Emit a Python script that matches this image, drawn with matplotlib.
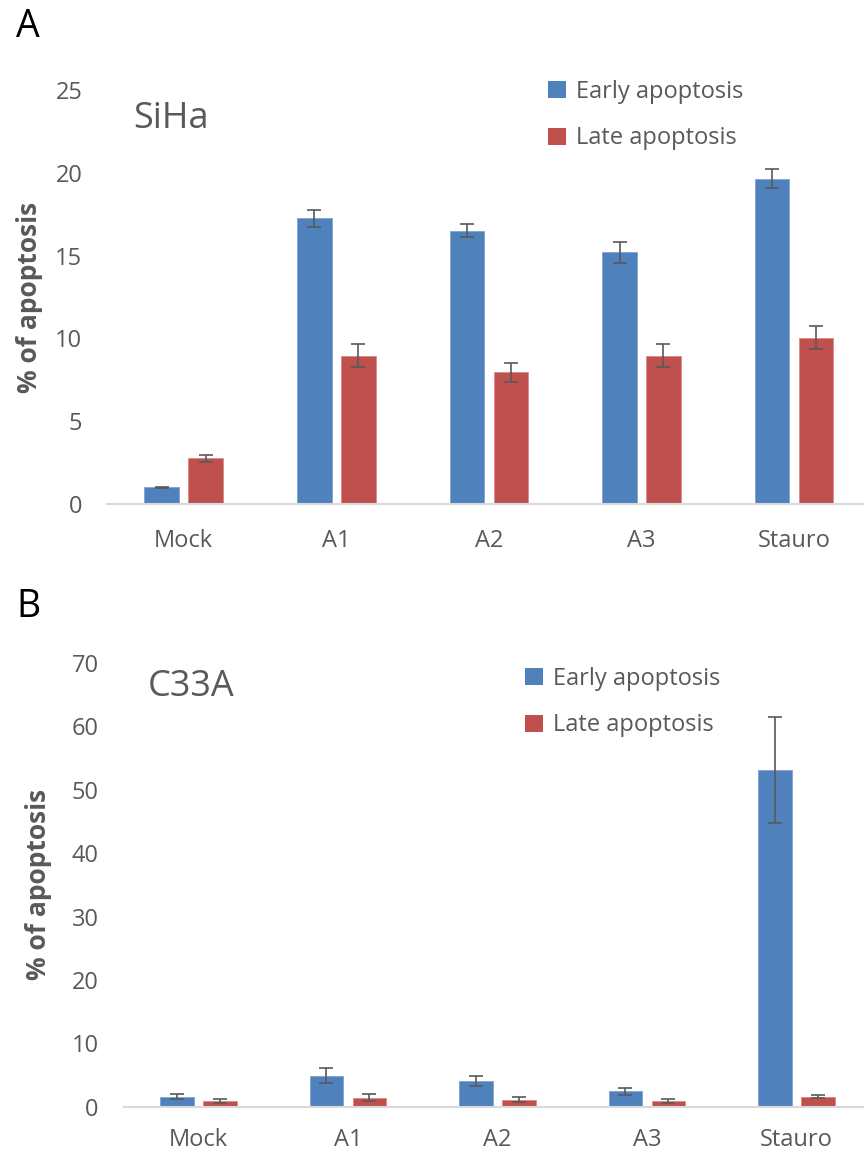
import numpy as np
import matplotlib
matplotlib.use("Agg")
import matplotlib.pyplot as plt
from matplotlib.patches import Patch

# categorias e valores
grupos = ["Mock", "A1", "A2", "A3", "Stauro"]

siha_early = [1.0, 17.25, 16.5, 15.2, 19.65]
siha_early_err = [0.05, 0.5, 0.38, 0.65, 0.58]
siha_late = [2.75, 8.95, 7.95, 8.95, 10.05]
siha_late_err = [0.23, 0.7, 0.58, 0.7, 0.72]

c33a_early = [1.6, 4.9, 4.05, 2.45, 53.1]
c33a_early_err = [0.33, 1.2, 0.84, 0.55, 8.3]
c33a_late = [0.9, 1.45, 1.1, 0.88, 1.6]
c33a_late_err = [0.28, 0.6, 0.42, 0.3, 0.17]

AZUL = "#4F81BD"
VERMELHO = "#C0504D"
CINZA = "#595959"

plt.rcParams["font.family"] = ["Open Sans", "DejaVu Sans"]

fig = plt.figure(figsize=(8.64, 11.53), dpi=100)


def painel(pos, early, early_err, late, late_err, ymax, passo, nome, letra,
           nome_xy, letra_xy, leg_xy, ypad, xpad):
    ax = fig.add_axes(pos)
    x = np.arange(len(grupos))
    larg = 0.226
    desl = 0.144
    ax.bar(x - desl, early, larg, color=AZUL, edgecolor="#7FA3D0", linewidth=0.6, zorder=2)
    ax.bar(x + desl, late, larg, color=VERMELHO, edgecolor="#D98A88", linewidth=0.6, zorder=2)
    ax.errorbar(x - desl, early, yerr=early_err, fmt="none", ecolor=CINZA,
                elinewidth=1.2, capsize=5, capthick=1.2, zorder=3)
    ax.errorbar(x + desl, late, yerr=late_err, fmt="none", ecolor=CINZA,
                elinewidth=1.2, capsize=5, capthick=1.2, zorder=3)
    ax.set_xlim(-0.5, len(grupos) - 0.5)
    ax.set_ylim(0, ymax)
    ax.set_yticks(np.arange(0, ymax + 1, passo))
    ax.set_xticks(x)
    ax.set_xticklabels(grupos)
    for lado in ["top", "right", "left"]:
        ax.spines[lado].set_visible(False)
    ax.spines["bottom"].set_color("#D9D9D9")
    ax.spines["bottom"].set_linewidth(1.5)
    ax.spines["bottom"].set_clip_on(False)
    ax.tick_params(axis="y", length=0, pad=18, labelsize=17, labelcolor=CINZA)
    ax.tick_params(axis="x", length=0, pad=xpad, labelsize=17, labelcolor=CINZA)
    ax.set_ylabel("% of apoptosis", fontsize=19, fontweight="bold", color=CINZA,
                  labelpad=ypad)
    fig.text(nome_xy[0] / 864, 1 - nome_xy[1] / 1153, nome, fontsize=26,
             color=CINZA, va="center", ha="left")
    fig.text(letra_xy[0] / 864, 1 - letra_xy[1] / 1153, letra, fontsize=27,
             color="black", va="center", ha="left")
    alcas = [Patch(facecolor=AZUL), Patch(facecolor=VERMELHO)]
    ax.legend(alcas, ["Early apoptosis", "Late apoptosis"], loc="upper left",
              bbox_to_anchor=(leg_xy[0] / 864, 1 - leg_xy[1] / 1153),
              bbox_transform=fig.transFigure, frameon=False, fontsize=17,
              labelcolor=CINZA, handlelength=0.75, handleheight=0.75,
              handletextpad=0.45, labelspacing=0.95, borderpad=0, borderaxespad=0)
    return ax


# painel A - SiHa
painel([107.4 / 864, 1 - 504 / 1153, 763 / 864, 414 / 1153],
       siha_early, siha_early_err, siha_late, siha_late_err, 25, 5,
       "SiHa", "A", (133, 119), (16, 27), (548, 80), 9, 18)

# painel B - C33A
painel([123.7 / 864, 1 - 1106.7 / 1153, 747.5 / 864, 443.8 / 1153],
       c33a_early, c33a_early_err, c33a_late, c33a_late_err, 70, 10,
       "C33A", "B", (148, 687), (16, 607), (525, 667), 14, 15)

fig.savefig("out.png", dpi=100)
